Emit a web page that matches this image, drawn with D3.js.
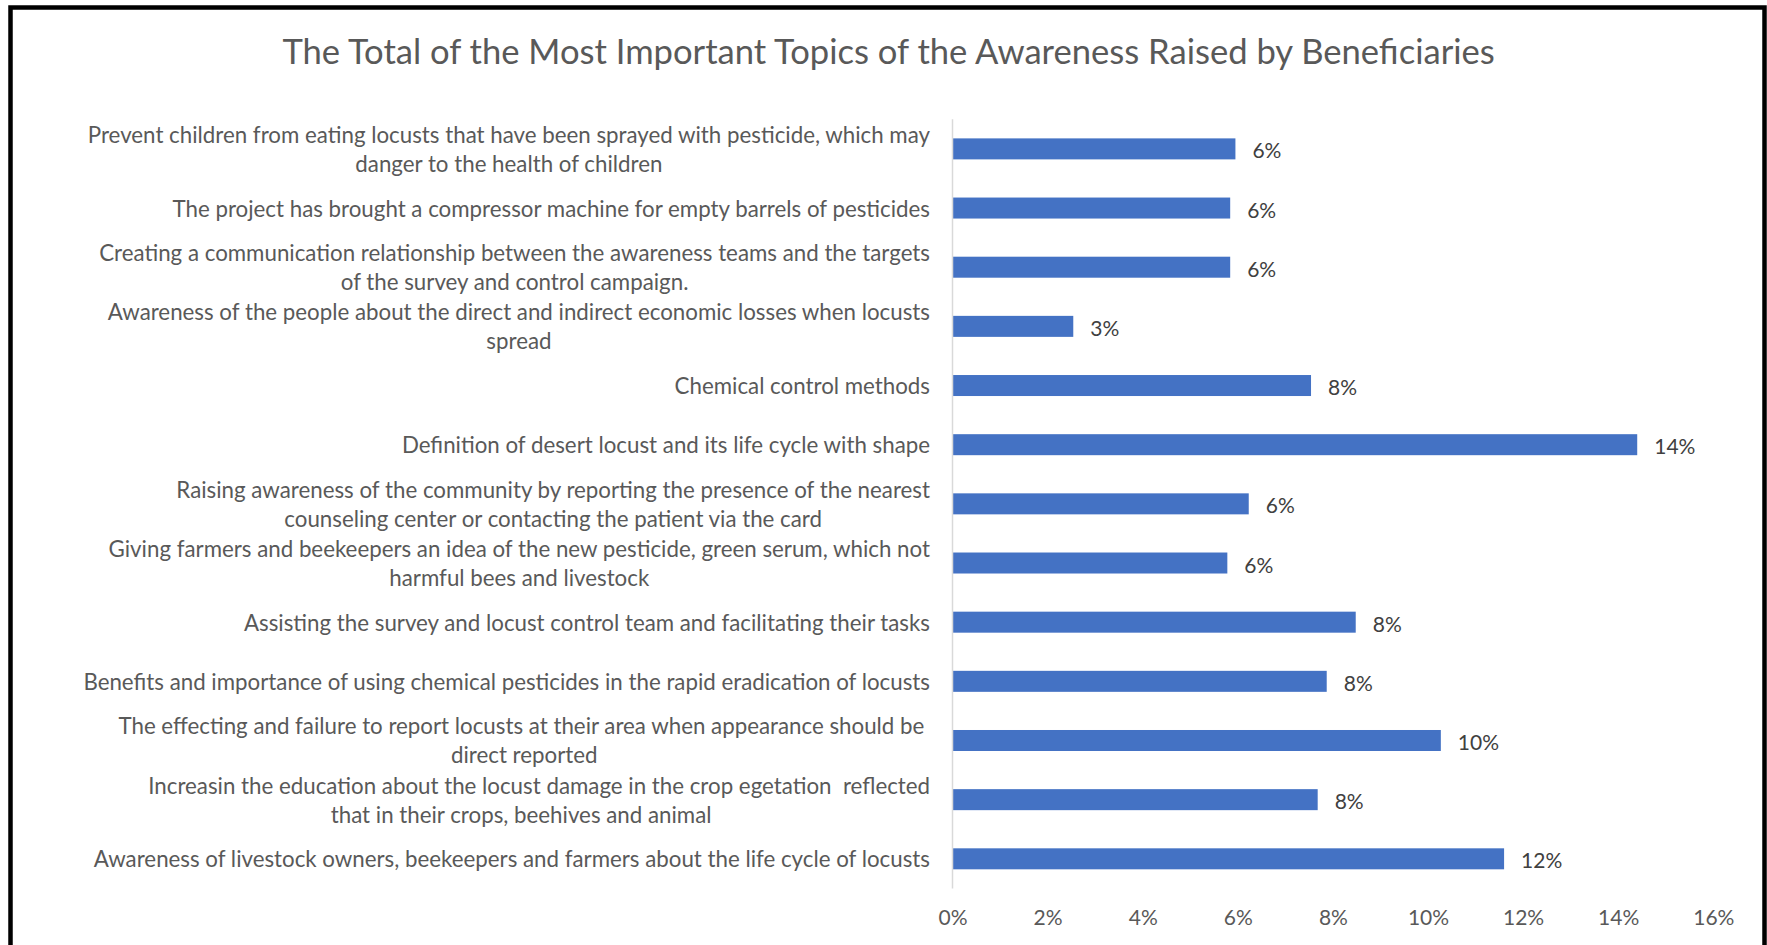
<!DOCTYPE html>
<html>
<head>
<meta charset="utf-8">
<script src="https://cdn.jsdelivr.net/npm/d3@7"></script>
<style>
  html, body { margin: 0; padding: 0; background: #fff; }
  svg { display: block; font-family: Lato, "Open Sans", sans-serif; }
</style>
</head>
<body>
<svg id="chart" width="1767" height="945"></svg>
<script>
// Awareness topics, top to bottom as listed on the chart (line breaks as wrapped)
const topics = [
  "Prevent children from eating locusts that have been sprayed with pesticide, which may\ndanger to the health of children",
  "The project has brought a compressor machine for empty barrels of pesticides",
  "Creating a communication relationship between the awareness teams and the targets\nof the survey and control campaign.",
  "Awareness of the people about the direct and indirect economic losses when locusts\nspread",
  "Chemical control methods",
  "Definition of desert locust and its life cycle with shape",
  "Raising awareness of the community by reporting the presence of the nearest\ncounseling center or contacting the patient via the card",
  "Giving farmers and beekeepers an idea of the new pesticide, green serum, which not\nharmful bees and livestock",
  "Assisting the survey and locust control team and facilitating their tasks",
  "Benefits and importance of using chemical pesticides in the rapid eradication of locusts",
  "The effecting and failure to report locusts at their area when appearance should be \ndirect reported",
  "Increasin the education about the locust damage in the crop egetation  reflected\nthat in their crops, beehives and animal",
  "Awareness of livestock owners, beekeepers and farmers about the life cycle of locusts"
];

// Share of beneficiaries naming each topic
const shares = [
  0.0595, 0.0584, 0.0584, 0.0254, 0.0754, 0.1440, 0.0623,
  0.0578, 0.0848, 0.0787, 0.1027, 0.0768, 0.1160
];

const xTicks = [0, 0.02, 0.04, 0.06, 0.08, 0.10, 0.12, 0.14, 0.16];

const chartTitle = "The Total of the Most Important Topics of the Awareness Raised by Beneficiaries";

// Horizontal nudge (px) of the wrapped second line, per topic
const secondLineNudge = [0, 0, 0, 0, 0, 0, 0, 0, 0, 0, 0, -18, 0];

// ---- layout ----
const plot = { left: 952.5, right: 1713.3, top: 119.3, bottom: 888.4 };
const labelRight = 930;
const lineGap = 29;
const textGrey = "#595959";
const labelDark = "#404040";
const barBlue = "#4472C4";

const svg = d3.select("#chart");

// frame
svg.append("rect")
  .attr("x", 10.5).attr("y", 7.5)
  .attr("width", 1754).attr("height", 980)
  .attr("fill", "#fff")
  .attr("stroke", "#000")
  .attr("stroke-width", 4.5);

// title
svg.append("text")
  .attr("x", 888.6).attr("y", 64)
  .attr("text-anchor", "middle")
  .attr("font-size", 34.6)
  .attr("fill", textGrey)
  .text(chartTitle);

const x = d3.scaleLinear()
  .domain([0, 0.16])
  .range([plot.left, plot.right]);

const y = d3.scaleBand()
  .domain(d3.range(topics.length))
  .range([plot.top, plot.bottom])
  .paddingInner(0.645)
  .paddingOuter(0.3225);

// x axis tick labels (no line, no tick marks)
const xAxis = d3.axisBottom(x)
  .tickValues(xTicks)
  .tickFormat(d3.format(".0%"))
  .tickSize(0)
  .tickPadding(0);

const gx = svg.append("g")
  .attr("transform", `translate(0, ${plot.bottom + 22})`)
  .call(xAxis);
gx.select(".domain").remove();
gx.selectAll("text")
  .attr("font-family", "Lato, 'Open Sans', sans-serif")
  .attr("font-size", 21)
  .attr("fill", textGrey)
  .attr("dy", "0.71em");

// bars
svg.append("g")
  .selectAll("rect")
  .data(shares)
  .join("rect")
  .attr("x", x(0))
  .attr("y", (d, i) => y(i))
  .attr("width", d => x(d) - x(0))
  .attr("height", y.bandwidth())
  .attr("fill", barBlue);

// category axis line
svg.append("line")
  .attr("x1", x(0)).attr("x2", x(0))
  .attr("y1", plot.top).attr("y2", plot.bottom)
  .attr("stroke", "#d9d9d9")
  .attr("stroke-width", 1.5);

// value labels
const pct = d3.format(".0%");
svg.append("g")
  .selectAll("text")
  .data(shares)
  .join("text")
  .attr("x", d => x(d) + 17)
  .attr("y", (d, i) => y(i) + y.bandwidth() / 2 + 1)
  .attr("dominant-baseline", "central")
  .attr("font-size", 21)
  .attr("fill", labelDark)
  .text(d => pct(d));

// category labels, each wrapped block right-aligned to the axis, lines centred
const catG = svg.append("g");
topics.forEach((t, i) => {
  const lines = t.split("\n");
  const cy = y(i) + y.bandwidth() / 2;
  const g = catG.append("g");
  const texts = lines.map((ln, k) => g.append("text")
    .attr("font-size", 22.3)
    .attr("fill", textGrey)
    .attr("dominant-baseline", "central")
    .style("white-space", "pre")
    .attr("y", cy + (k - (lines.length - 1) / 2) * lineGap)
    .text(ln));
  const widths = texts.map(s => s.node().getComputedTextLength());
  const maxW = d3.max(widths);
  const cx = labelRight - maxW / 2;
  texts.forEach((s, k) => {
    s.attr("text-anchor", "middle")
     .attr("x", cx + (k > 0 ? secondLineNudge[i] : 0));
  });
});
</script>
</body>
</html>
